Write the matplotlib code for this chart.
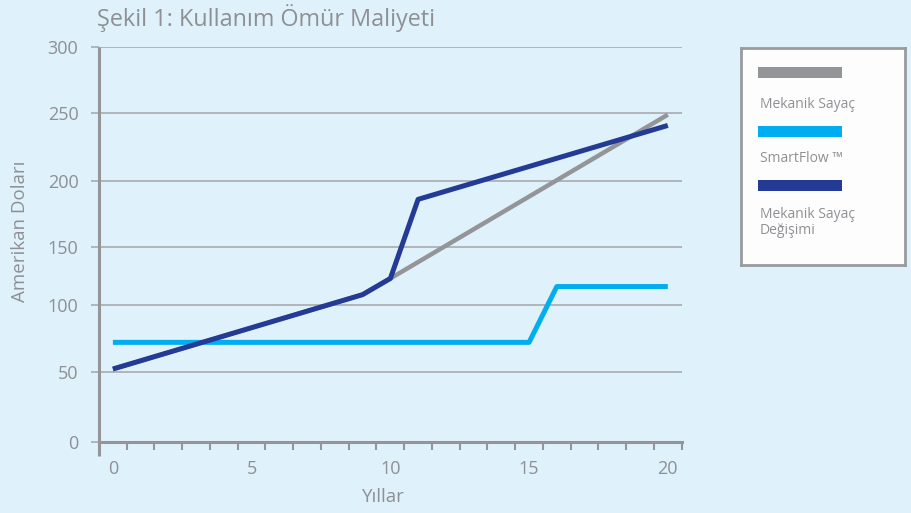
import numpy as np
import matplotlib
matplotlib.use("Agg")
import matplotlib.pyplot as plt
from matplotlib.patches import Rectangle

plt.rcParams['font.family'] = ['Open Sans', 'DejaVu Sans']

# data
years_mech = [0, 9, 10, 20]
cost_mech = [52, 109, 123, 249]
years_smart = [0, 15, 16, 20]
cost_smart = [72, 72, 116, 116]
years_repl = [0, 9, 10, 11, 20]
cost_repl = [52, 109, 123, 186, 241]

x_ticks = [0, 5, 10, 15, 20]
y_ticks = [0, 50, 100, 150, 200, 250, 300]
labels = ["Mekanik Sayaç", "SmartFlow ™", "Mekanik Sayaç\nDeğişimi"]

# the original gridlines are not evenly spaced; pixel heights above the x axis
grid_px = [0, 70, 136.7, 194.4, 261, 328.4, 395]

BG = '#dff1fb'
GREY = '#939598'
TXT = '#8e9093'
C_MECH = '#939598'
C_SMART = '#00aeef'
C_REPL = '#233b95'

ext_v = np.array([-300] + y_ticks + [600], dtype=float)
ext_p = np.array([-420] + grid_px + [395 + 300 * 395 / 300], dtype=float)


def fwd(v):
    return np.interp(v, ext_v, ext_p)


def inv(p):
    return np.interp(p, ext_p, ext_v)


fig = plt.figure(figsize=(9.12, 5.13), dpi=100, facecolor=BG)
ax = fig.add_axes([99 / 912, 1 - 441.7 / 513, 582.7 / 912, 395 / 513])
ax.set_facecolor(BG)
ax.set_yscale('function', functions=(fwd, inv))
ax.set_xlim(-0.5, 20.5)
ax.set_ylim(0, 300)

ax.plot(years_mech, cost_mech, color=C_MECH, lw=3.2, solid_capstyle='butt', zorder=3)
ax.plot(years_smart, cost_smart, color=C_SMART, lw=3.6, solid_capstyle='butt', zorder=4)
ax.plot(years_repl, cost_repl, color=C_REPL, lw=3.6, solid_capstyle='butt', zorder=5)

# axes styling
for s in ['top', 'right', 'left']:
    ax.spines[s].set_visible(False)
ax.spines['bottom'].set_color(GREY)
ax.spines['bottom'].set_linewidth(2.2)
ax.spines['bottom'].set_zorder(6)
ax.plot([0, 0], [1, -0.036], transform=ax.transAxes, color=GREY, lw=2.2,
        clip_on=False, solid_capstyle='butt', zorder=6)

ax.set_yticks(y_ticks)
ax.yaxis.set_minor_locator(matplotlib.ticker.NullLocator())
ax.grid(axis='y', color='#a3a5a8', lw=1.1, zorder=1)
ax.tick_params(axis='y', length=5.8, width=1.1, color='#a3a5a8', pad=9,
               labelsize=13, labelcolor=TXT)

ax.set_xticks(x_ticks)
ax.set_xticks(np.arange(0.5, 21, 1), minor=True)
ax.tick_params(axis='x', which='major', length=0, pad=13, labelsize=13, labelcolor=TXT)
ax.tick_params(axis='x', which='minor', length=5.5, width=1.5, color=GREY)

fig.text(97 / 912, 1 - 26 / 513, "Şekil 1: Kullanım Ömür Maliyeti", fontsize=16.8,
         color=TXT, ha='left', va='baseline')
fig.text(20.5 / 912, 1 - 231.5 / 513, "Amerikan Doları", rotation=90, fontsize=13.5,
         color=TXT, ha='center', va='center')
fig.text(383 / 912, 1 - 497 / 513, "Yıllar", fontsize=13.5, color=TXT,
         ha='center', va='center')

# legend box
lg = fig.add_axes([741 / 912, 1 - 265 / 513, 164 / 912, 217 / 513])
lg.set_facecolor('#fdfdfd')
lg.set_xlim(0, 164)
lg.set_ylim(217, 0)
lg.set_xticks([])
lg.set_yticks([])
for s in lg.spines.values():
    s.set_color('#9a9b9d')
    s.set_linewidth(2)
sw_tops = [19, 78, 132]
lab_y = [57, 110.3, 174.5]
for col, top, ly, lab in zip([C_MECH, C_SMART, C_REPL], sw_tops, lab_y, labels):
    lg.add_patch(Rectangle((16.7, top), 84, 10.7, color=col, lw=0))
    lg.text(19, ly, lab, fontsize=10, color=TXT, ha='left', va='center',
            linespacing=1.15)

fig.savefig("out.png", dpi=100, facecolor=BG)
